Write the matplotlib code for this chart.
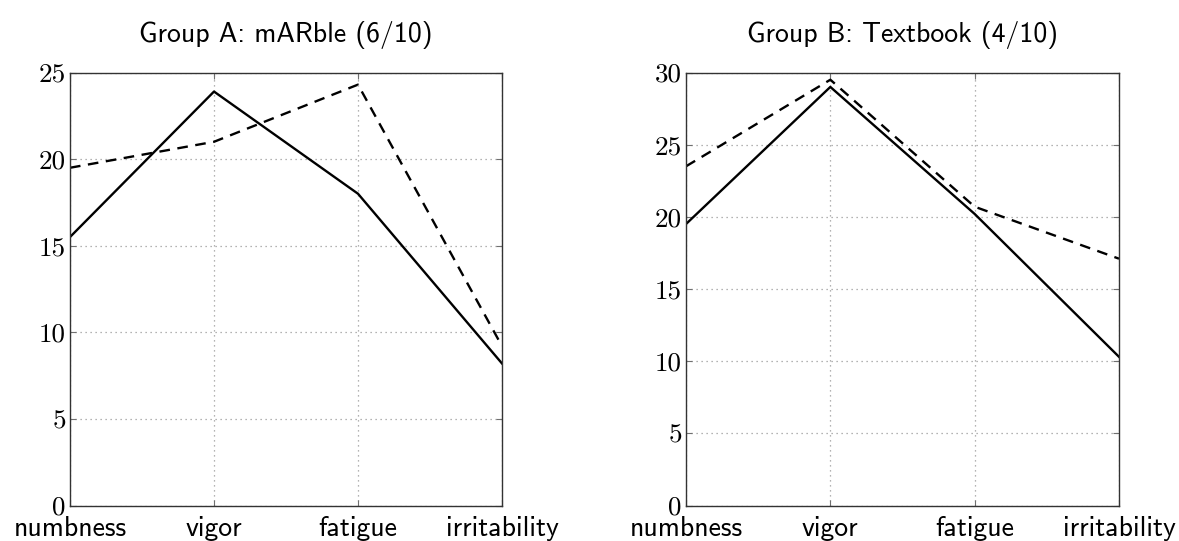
import numpy as np
import matplotlib
matplotlib.use("Agg")
import matplotlib.pyplot as plt

categories = ["numbness", "vigor", "fatigue", "irritability"]

# group A: mARble
marble_solid = [15.5, 23.9, 18.0, 8.2]
marble_dashed = [19.5, 21.0, 24.3, 9.2]
marble_ylim = 25

# group B: textbook
textbook_solid = [19.5, 29.0, 20.2, 10.3]
textbook_dashed = [23.5, 29.5, 20.7, 17.1]
textbook_ylim = 30

titles = ["Group A: mARble (6/10)", "Group B: Textbook (4/10)"]


def draw(axis, solid, dashed, top, title):
    x = np.arange(len(categories))
    axis.plot(x, solid, color="black", linewidth=1.7)
    axis.plot(x, dashed, color="black", linewidth=1.7, linestyle=(0, (4.5, 3.2)))
    axis.set_xlim(0, len(categories) - 1)
    axis.set_ylim(0, top)
    axis.set_xticks(x)
    axis.set_xticklabels(categories, fontsize=20, family="cmss10")
    yticks = np.arange(0, top + 1, 5)
    axis.set_yticks(yticks)
    axis.set_yticklabels(["%d" % v for v in yticks], fontsize=19.5, family="cmr10")
    axis.grid(True, color="#9a9a9a", linestyle=(0, (1, 3)), linewidth=0.9)
    axis.tick_params(direction="in", length=4, color="#707070",
                     top=True, right=True)
    axis.tick_params(axis="x", pad=7.5)
    axis.tick_params(axis="y", pad=3)
    for spine in axis.spines.values():
        spine.set_linewidth(1.0)
        spine.set_color("#333333")
    axis.set_title(title, fontsize=20, family="cmss10", pad=22)


fig = plt.figure(figsize=(11.79, 5.41), dpi=100)
left = fig.add_axes([70 / 1179, 35.5 / 541, 432 / 1179, 433 / 541])
right = fig.add_axes([686 / 1179, 35.5 / 541, 433 / 1179, 433 / 541])

draw(left, marble_solid, marble_dashed, marble_ylim, titles[0])
draw(right, textbook_solid, textbook_dashed, textbook_ylim, titles[1])

fig.savefig("out.png", dpi=100)
